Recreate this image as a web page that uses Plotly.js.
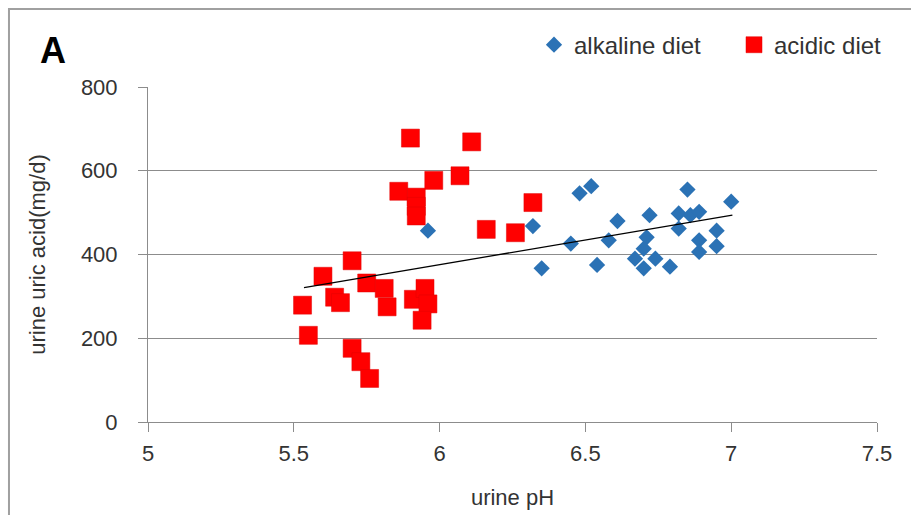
<!DOCTYPE html>
<html>
<head>
<meta charset="utf-8">
<script src="https://cdn.plot.ly/plotly-3.0.1.min.js"></script>
<style>
html,body{margin:0;padding:0;background:#fff;}
#chart{width:911px;height:515px;}
</style>
</head>
<body>
<div id="chart"></div>
<script>
// alkaline diet (blue diamonds)
var alkalineX = [5.96, 6.32, 6.35, 6.45, 6.48, 6.52, 6.54, 6.58, 6.61, 6.72, 6.71, 6.70, 6.67, 6.70, 6.74, 6.79, 6.85, 6.82, 6.82, 6.86, 6.89, 6.89, 6.89, 6.95, 6.95, 7.00];
var alkalineY = [457, 468, 367, 426, 546, 563, 375, 434, 480, 494, 441, 414, 390, 367, 390, 371, 555, 498, 462, 494, 502, 434, 406, 457, 420, 526];
// acidic diet (red squares)
var acidicX = [5.90, 6.11, 5.98, 6.07, 5.86, 5.92, 5.92, 5.92, 6.16, 6.26, 6.32, 5.70, 5.60, 5.53, 5.64, 5.66, 5.75, 5.81, 5.82, 5.91, 5.95, 5.96, 5.94, 5.55, 5.70, 5.73, 5.76];
var acidicY = [678, 669, 577, 588, 551, 537, 515, 492, 460, 452, 524, 385, 348, 279, 298, 285, 332, 319, 275, 293, 319, 282, 243, 207, 176, 144, 104];
// trend line endpoints
var trendX = [5.535, 7.004];
var trendY = [321, 494];
// ticks
var xTicks = [5, 5.5, 6, 6.5, 7, 7.5];
var xTickText = ['5', '5.5', '6', '6.5', '7', '7.5'];
var yTicks = [0, 200, 400, 600, 800];
var yTickText = ['0', '200', '400', '600', '800'];

var FONT = '"Liberation Sans", Arial, sans-serif';

var traces = [
  {
    x: alkalineX, y: alkalineY, type: 'scatter', mode: 'markers', name: 'alkaline diet',
    marker: {symbol: 'diamond', size: 12.5, color: '#2b72b5', line: {width: 0}}
  },
  {
    x: acidicX, y: acidicY, type: 'scatter', mode: 'markers', name: 'acidic diet',
    marker: {symbol: 'square', size: 18, color: '#ff0000', line: {width: 0.5, color: '#e00000'}}
  },
  {
    x: trendX, y: trendY, type: 'scatter', mode: 'lines', showlegend: false,
    line: {color: '#000000', width: 1.3}
  }
];

var layout = {
  width: 911, height: 515,
  margin: {l: 148, r: 34, t: 87, b: 93, autoexpand: false},
  paper_bgcolor: '#ffffff', plot_bgcolor: '#ffffff',
  font: {family: FONT, size: 22, color: '#333333'},
  showlegend: true,
  legend: {
    orientation: 'h', x: 0.5295, y: 1.125, xanchor: 'left', yanchor: 'middle',
    font: {family: FONT, size: 24, color: '#333333'},
    bgcolor: 'rgba(0,0,0,0)', entrywidth: 155, entrywidthmode: 'pixels',
    itemsizing: 'trace'
  },
  xaxis: {
    range: [5, 7.5], tickvals: xTicks, ticktext: xTickText,
    showgrid: false, zeroline: false,
    showline: true, linecolor: '#8c8c8c', linewidth: 1,
    ticks: 'outside', ticklen: 9, tickcolor: '#8c8c8c', tickwidth: 1,
    ticklabelstandoff: 3,
    tickfont: {family: FONT, size: 22, color: '#333333'},
    title: {text: 'urine pH', font: {family: FONT, size: 22, color: '#333333'}, standoff: 24}
  },
  yaxis: {
    range: [0, 800], tickvals: yTicks, ticktext: yTickText,
    showgrid: true, gridcolor: '#8c8c8c', gridwidth: 1, zeroline: false,
    showline: true, linecolor: '#8c8c8c', linewidth: 1,
    ticks: 'outside', ticklen: 9, tickcolor: '#8c8c8c', tickwidth: 1,
    ticklabelstandoff: 16,
    tickfont: {family: FONT, size: 22, color: '#333333'},
    title: {text: 'urine uric acid(mg/d)', font: {family: FONT, size: 22, color: '#333333'}, standoff: 29}
  },
  annotations: [
    {text: '<b>A</b>', xref: 'paper', yref: 'paper', x: -0.130, y: 1.110,
     xanchor: 'center', yanchor: 'middle', showarrow: false,
     font: {family: FONT, size: 36, color: '#000000'}}
  ],
  shapes: [
    {type: 'rect', xref: 'paper', yref: 'paper', x0: -0.1907, x1: 1.3, y0: -0.35, y1: 1.2328,
     line: {color: '#a0a0a0', width: 2}, fillcolor: 'rgba(0,0,0,0)', layer: 'below'}
  ]
};

Plotly.newPlot('chart', traces, layout, {displayModeBar: false, staticPlot: true});
</script>
</body>
</html>
